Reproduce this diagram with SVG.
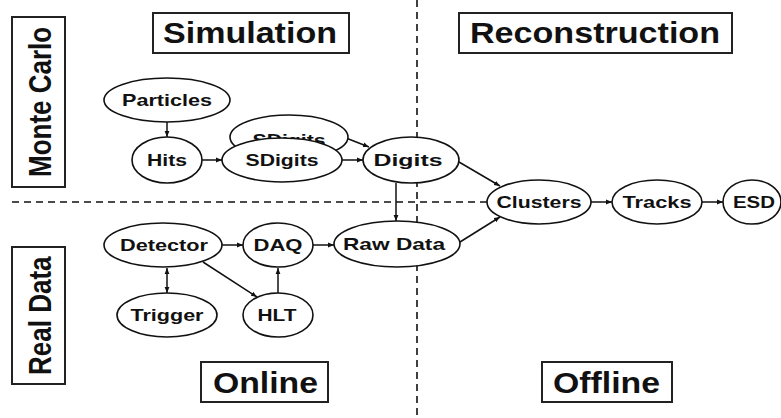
<svg xmlns="http://www.w3.org/2000/svg" width="781" height="418" viewBox="0 0 781 418">
<style>
.box{fill:#fff;stroke:#222;stroke-width:2}
.title{font-family:"Liberation Sans",Arial,sans-serif;font-weight:bold;font-size:29px;fill:#111}
.node ellipse{fill:#fff;stroke:#111;stroke-width:1.6}
.node text{font-family:"Liberation Sans",Arial,sans-serif;font-weight:bold;font-size:17px;fill:#111;text-anchor:middle}
.dash{stroke:#111;stroke-width:1.6;stroke-dasharray:7,5;fill:none}
.conn line{stroke:#111;stroke-width:1.5;marker-end:url(#ah)}
</style>
<defs>
<marker id="ah" viewBox="0 0 10 10" refX="10" refY="5" markerWidth="6" markerHeight="6" orient="auto-start-reverse" markerUnits="userSpaceOnUse">
<path d="M0,1 L10,5 L0,9 z" fill="#111"/>
</marker>
</defs>
<rect width="781" height="418" fill="#fff"/>
<g id="dividers">
<line class="dash" x1="12" y1="202" x2="487" y2="202"/>
<line class="dash" x1="417" y1="0" x2="417" y2="418"/>
</g>
<g id="label-montecarlo">
<rect class="box" x="12" y="17" width="53" height="170"/>
<text class="title" transform="translate(51,177) rotate(-90) scale(1,1.22)" style="font-size:26px">Monte Carlo</text>
</g>
<g id="label-realdata">
<rect class="box" x="12" y="247" width="53" height="137"/>
<text class="title" transform="translate(51,375) rotate(-90) scale(1,1.22)" style="font-size:26px">Real Data</text>
</g>
<g id="label-simulation">
<rect class="box" x="153" y="13" width="196" height="40"/>
<text class="title" x="163" y="43" textLength="174" lengthAdjust="spacingAndGlyphs">Simulation</text>
</g>
<g id="label-reconstruction">
<rect class="box" x="459" y="13" width="273" height="40"/>
<text class="title" x="470" y="43" textLength="250" lengthAdjust="spacingAndGlyphs">Reconstruction</text>
</g>
<g id="label-online">
<rect class="box" x="201" y="362" width="127" height="40"/>
<text class="title" x="213" y="393" textLength="105" lengthAdjust="spacingAndGlyphs">Online</text>
</g>
<g id="label-offline">
<rect class="box" x="542" y="362" width="130" height="40"/>
<text class="title" x="553" y="393" textLength="107" lengthAdjust="spacingAndGlyphs">Offline</text>
</g>
<g id="connectors" class="conn">
<line x1="167" y1="122" x2="167" y2="137"/>
<line x1="202" y1="160" x2="222" y2="160"/>
<line x1="342" y1="160" x2="363" y2="160"/>
<line x1="346" y1="138" x2="369" y2="147"/>
<line x1="459" y1="162" x2="500" y2="186"/>
<line x1="396" y1="183" x2="396" y2="221"/>
<line x1="460" y1="242" x2="500" y2="217"/>
<line x1="591" y1="202" x2="612" y2="202"/>
<line x1="702" y1="202" x2="723" y2="202"/>
<line x1="222" y1="245" x2="243" y2="245"/>
<line x1="313" y1="245" x2="334" y2="245"/>
<line x1="167" y1="268" x2="167" y2="293" style="marker-start:url(#ah)"/>
<line x1="203" y1="262" x2="257" y2="297"/>
<line x1="278" y1="293" x2="278" y2="268"/>
</g>
<g id="node-particles" class="node"><ellipse cx="167" cy="100" rx="63" ry="22"/><text x="167" y="106" textLength="90" lengthAdjust="spacingAndGlyphs">Particles</text></g>
<g id="node-hits" class="node"><ellipse cx="167" cy="160" rx="35" ry="23"/><text x="167" y="166" textLength="40" lengthAdjust="spacingAndGlyphs">Hits</text></g>
<g id="node-sdigits-back" class="node"><ellipse cx="289" cy="137" rx="59" ry="22"/><text x="289" y="146" textLength="73" lengthAdjust="spacingAndGlyphs">SDigits</text></g>
<g id="node-sdigits" class="node"><ellipse cx="282" cy="160" rx="60" ry="22"/><text x="282" y="166" textLength="73" lengthAdjust="spacingAndGlyphs">SDigits</text></g>
<g id="node-digits" class="node"><ellipse cx="411" cy="160" rx="48" ry="23"/><text x="408" y="166" textLength="69" lengthAdjust="spacingAndGlyphs">Digits</text></g>
<g id="node-clusters" class="node"><ellipse cx="539" cy="202" rx="52" ry="22"/><text x="539" y="208" textLength="85" lengthAdjust="spacingAndGlyphs">Clusters</text></g>
<g id="node-tracks" class="node"><ellipse cx="657" cy="202" rx="45" ry="22"/><text x="657" y="208" textLength="69" lengthAdjust="spacingAndGlyphs">Tracks</text></g>
<g id="node-esd" class="node"><ellipse cx="752" cy="202" rx="29" ry="22"/><text x="754" y="208" textLength="42" lengthAdjust="spacingAndGlyphs">ESD</text></g>
<g id="node-detector" class="node"><ellipse cx="163" cy="245" rx="59" ry="22"/><text x="164" y="251" textLength="88" lengthAdjust="spacingAndGlyphs">Detector</text></g>
<g id="node-daq" class="node"><ellipse cx="278" cy="245" rx="35" ry="22"/><text x="278" y="251" textLength="49" lengthAdjust="spacingAndGlyphs">DAQ</text></g>
<g id="node-rawdata" class="node"><ellipse cx="397" cy="244" rx="63" ry="23"/><text x="394" y="250" textLength="102" lengthAdjust="spacingAndGlyphs">Raw Data</text></g>
<g id="node-trigger" class="node"><ellipse cx="167" cy="315" rx="50" ry="22"/><text x="167" y="321" textLength="73" lengthAdjust="spacingAndGlyphs">Trigger</text></g>
<g id="node-hlt" class="node"><ellipse cx="278" cy="315" rx="35" ry="22"/><text x="277" y="321" textLength="39" lengthAdjust="spacingAndGlyphs">HLT</text></g>
</svg>
